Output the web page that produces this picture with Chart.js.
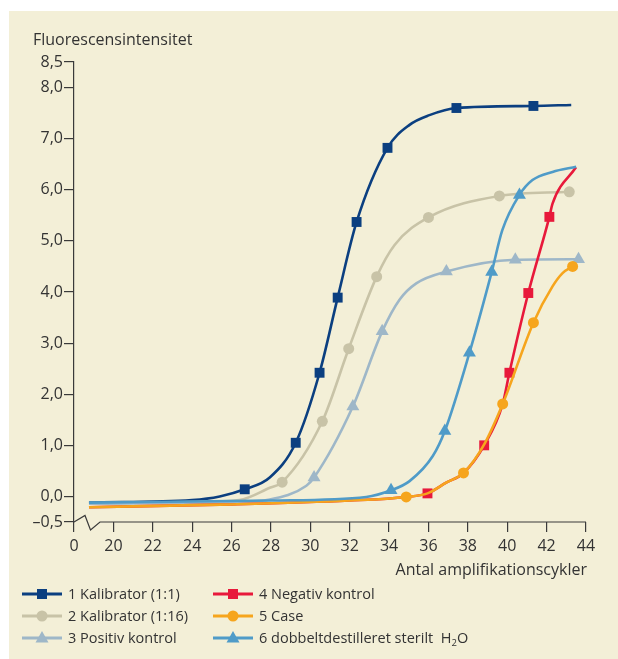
<!DOCTYPE html>
<html>
<head>
<meta charset="utf-8">
<script src="https://cdn.jsdelivr.net/npm/chart.js@4.4.1/dist/chart.umd.min.js"></script>
<style>
  html, body { margin: 0; padding: 0; background: #fff; }
  body { width: 618px; height: 659px; position: relative; overflow: hidden; font-family: "Open Sans", sans-serif; color: #333; }
  #panel { position: absolute; left: 9px; top: 11px; width: 609px; height: 648px; background: #f3efd7; }
  #chart { position: absolute; left: 0; top: 0; }
  .ytitle { position: absolute; left: 33px; top: 29px; font-size: 16px; line-height: 20px; }
  .xtitle { position: absolute; right: 31px; top: 559px; font-size: 16px; line-height: 20px; }
  .legend .item { position: absolute; height: 20px; font-size: 14.5px; line-height: 20px; white-space: nowrap; }
  .legend svg { position: absolute; left: 0; top: 3px; }
  .legend span { position: absolute; left: 46px; top: 0; }
  .legend sub { font-size: 9.5px; vertical-align: -3px; line-height: 0; }
</style>
</head>
<body>
<div id="panel"></div>
<canvas id="chart" width="618" height="659"></canvas>
<div class="ytitle">Fluorescensintensitet</div>
<div class="xtitle">Antal amplifikationscykler</div>
<div class="legend" id="legend"></div>
<script>
// series data: cycle, fluorescence, and 1 where a marker is drawn
var labels = ["1 Kalibrator (1:1)", "2 Kalibrator (1:16)", "3 Positiv kontrol",
              "4 Negativ kontrol", "5 Case", "6 dobbeltdestilleret sterilt &nbsp;H<sub>2</sub>O"];
var colors = ["#0b3f80", "#c8c3a7", "#9eb7c8", "#e8193b", "#f6a51d", "#4f9bc8"];
var styles = ["rect", "circle", "triangle", "rect", "circle", "triangle"];

var cal1X = [18.76, 24.0, 25.4, 26.67, 27.94, 29.26, 30.47, 31.39, 32.35, 33.92, 35.04, 36.05, 37.42, 41.33, 43.25];
var cal1Y = [-0.12, -0.07, 0.0, 0.14, 0.37, 1.05, 2.42, 3.89, 5.37, 6.82, 7.27, 7.46, 7.6, 7.64, 7.66];
var cal1M = [0, 0, 0, 1, 0, 1, 1, 1, 1, 1, 0, 0, 1, 1, 0];

var cal16X = [18.76, 24.0, 26.4, 27.94, 28.57, 30.61, 31.95, 33.37, 34.28, 36.0, 39.6, 43.15];
var cal16Y = [-0.13, -0.11, -0.07, 0.17, 0.28, 1.47, 2.89, 4.3, 4.92, 5.46, 5.88, 5.96];
var cal16M = [0, 0, 0, 0, 1, 1, 1, 1, 0, 1, 1, 1];

var posX = [18.76, 26.0, 27.94, 29.8, 30.19, 32.16, 33.65, 34.53, 35.38, 36.91, 40.41, 43.62];
var posY = [-0.14, -0.11, -0.06, 0.21, 0.37, 1.76, 3.23, 3.85, 4.17, 4.4, 4.63, 4.64];
var posM = [0, 0, 0, 0, 1, 1, 1, 0, 0, 1, 1, 1];

var negX = [18.76, 25.4, 32.0, 34.87, 35.95, 36.9, 37.78, 38.83, 39.77, 40.11, 41.07, 42.14, 42.3, 43.49];
var negY = [-0.21, -0.16, -0.08, -0.01, 0.06, 0.27, 0.46, 1.0, 1.81, 2.42, 3.98, 5.47, 5.73, 6.44];
var negM = [0, 0, 0, 0, 1, 0, 0, 1, 0, 1, 1, 1, 0, 0];

var caseX = [18.76, 25.4, 32.0, 34.87, 35.95, 36.9, 37.78, 38.83, 39.77, 41.33, 42.3, 42.81, 43.32];
var caseY = [-0.21, -0.16, -0.08, -0.01, 0.06, 0.27, 0.46, 1.02, 1.81, 3.4, 4.11, 4.37, 4.5];
var caseM = [0, 0, 0, 1, 0, 0, 1, 0, 1, 1, 0, 0, 1];

var waterX = [18.76, 28.0, 32.84, 34.1, 35.04, 36.22, 36.83, 38.08, 39.21, 39.75, 40.62, 41.28, 42.3, 43.5];
var waterY = [-0.12, -0.08, -0.01, 0.12, 0.3, 0.79, 1.28, 2.81, 4.39, 5.21, 5.9, 6.19, 6.35, 6.45];
var waterM = [0, 0, 0, 1, 0, 0, 1, 1, 1, 0, 1, 0, 0, 0];

var yTicks = [-0.5, 0, 1, 2, 3, 4, 5, 6, 7, 8, 8.5];

var seriesX = [cal1X, cal16X, posX, negX, caseX, waterX];
var seriesY = [cal1Y, cal16Y, posY, negY, caseY, waterY];
var seriesM = [cal1M, cal16M, posM, negM, caseM, waterM];

function markerSize(style) {
    if (style == "rect") return 7;
    if (style == "triangle") return 7.5;
    return 5.5;
}

var datasets = seriesX.map(function (xs, i) {
    var marks = seriesM[i];
    return {
        label: labels[i],
        data: xs.map(function (x, j) { return { x: x, y: seriesY[i][j] }; }),
        borderColor: colors[i],
        backgroundColor: colors[i],
        borderWidth: 2.6,
        cubicInterpolationMode: "monotone",
        pointStyle: styles[i],
        pointRadius: function (ctx) { return marks[ctx.dataIndex] ? markerSize(styles[i]) : 0; },
        pointBorderWidth: 0,
        pointHoverRadius: 0,
        order: 6 - i
    };
});

// x axis line starts after the break; draw the zigzag by hand
var axisBreak = {
    id: "axisBreak",
    afterDraw: function (chart) {
        var c = chart.ctx, a = chart.chartArea;
        var l = a.left, b = a.bottom;
        c.save();
        c.strokeStyle = "#3a3a3a";
        c.lineWidth = 1.2;
        c.beginPath();
        c.moveTo(l, b);
        c.lineTo(l + 11, b - 6.5);
        c.lineTo(l + 16.5, b + 8);
        c.lineTo(l + 26, b);
        c.lineTo(a.right, b);
        c.stroke();
        c.restore();
    }
};

var ctx = document.getElementById("chart");
new Chart(ctx.getContext("2d"), {
    type: "line",
    data: { datasets: datasets },
    plugins: [axisBreak],
    options: {
        responsive: false,
        animation: false,
        events: [],
        layout: { padding: { left: 0, top: 62, right: 32, bottom: 0 } },
        plugins: { legend: { display: false }, tooltip: { enabled: false } },
        scales: {
            x: {
                type: "linear",
                min: 18,
                max: 44,
                afterFit: function (scale) { scale.height = 137; },
                ticks: {
                    stepSize: 2,
                    padding: 5,
                    color: "#333",
                    font: { family: "Open Sans", size: 16 },
                    callback: function (v) { return v == 18 ? "0" : v; }
                },
                grid: { drawOnChartArea: false, drawTicks: true, tickLength: 10, color: "#3a3a3a", lineWidth: 1.2 },
                border: { display: false }
            },
            y: {
                min: -0.5,
                max: 8.5,
                afterFit: function (scale) { scale.width = 74; },
                afterBuildTicks: function (scale) {
                    scale.ticks = yTicks.map(function (v) { return { value: v }; });
                },
                ticks: {
                    padding: 1,
                    color: "#333",
                    font: { family: "Open Sans", size: 16 },
                    callback: function (v) {
                        var s = Math.abs(v).toFixed(1).replace(".", ",");
                        return v < 0 ? "\u2013" + s : s;
                    }
                },
                grid: { drawOnChartArea: false, drawTicks: true, tickLength: 10, color: "#3a3a3a", lineWidth: 1.2 },
                border: { display: true, color: "#3a3a3a", width: 1.2 }
            }
        }
    }
});

// html legend, two columns
var legendPos = [[22, 584], [22, 606], [22, 628], [213, 584], [213, 606], [213, 628]];
var legend = document.getElementById("legend");
labels.forEach(function (name, i) {
    var col = colors[i], m;
    if (styles[i] == "rect") m = '<rect x="15" y="2" width="10" height="10" fill="' + col + '"/>';
    else if (styles[i] == "circle") m = '<circle cx="20" cy="7" r="5.5" fill="' + col + '"/>';
    else m = '<polygon points="20,0 26.5,11.5 13.5,11.5" fill="' + col + '"/>';
    var item = document.createElement("div");
    item.className = "item";
    item.style.left = legendPos[i][0] + "px";
    item.style.top = legendPos[i][1] + "px";
    item.innerHTML = '<svg width="40" height="14"><line x1="0" y1="7" x2="40" y2="7" stroke="' + col +
        '" stroke-width="3"/>' + m + '</svg><span>' + name + '</span>';
    legend.appendChild(item);
});
</script>
</body>
</html>
